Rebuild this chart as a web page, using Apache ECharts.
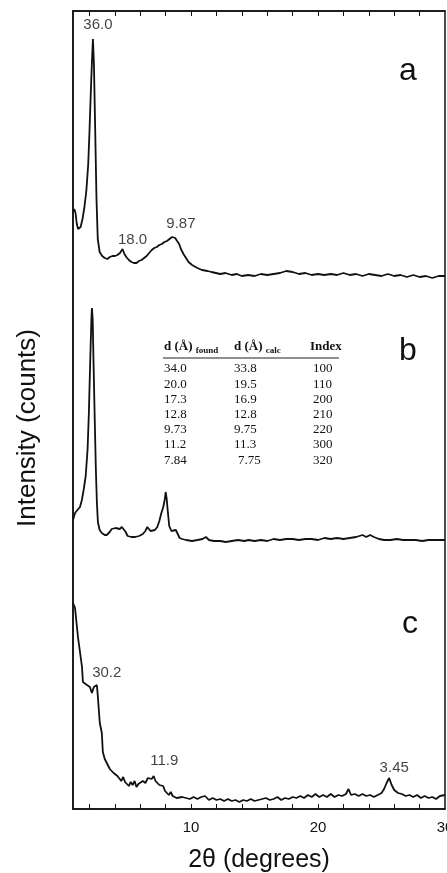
<!DOCTYPE html>
<html>
<head>
<meta charset="utf-8">
<script src="https://cdn.jsdelivr.net/npm/echarts@6/dist/echarts.min.js"></script>
<style>
    html, body { margin: 0; padding: 0; background: #fff; overflow: hidden; }
    #chart { width: 447px; height: 873px; }
</style>
</head>
<body>
<div id="chart"></div>
<script>
// XRD traces, 2theta (deg) vs intensity (arbitrary counts above each trace baseline)
var thetaA = [0.7, 0.8, 0.9, 1.0, 1.1, 1.2, 1.3, 1.45, 1.6, 1.75, 1.9, 2.0, 2.1, 2.2, 2.27, 2.35, 2.45, 2.55, 2.65, 2.8, 3.0, 3.2, 3.4, 3.6, 3.8, 4.0, 4.2, 4.4, 4.6, 4.75, 4.9, 5.1, 5.3, 5.5, 5.7, 5.9, 6.1, 6.3, 6.5, 6.7, 6.9, 7.1, 7.3, 7.5, 7.7, 7.9, 8.1, 8.3, 8.5, 8.6, 8.75, 8.9, 9.06, 9.2, 9.4, 9.6, 9.8, 10.08, 10.5, 10.86, 11.3, 11.6, 11.95, 12.3, 12.7, 13.2, 13.6, 14, 14.5, 15, 15.5, 16, 16.5, 17, 17.5, 18, 18.5, 19, 19.5, 20, 20.5, 21, 21.5, 22, 22.5, 23, 23.5, 24, 24.5, 25, 25.5, 26, 26.5, 27, 27.5, 28, 28.5, 29, 29.5, 30];
var countsA = [67, 70, 66, 55, 50, 49, 52, 60, 72, 88, 115, 148, 186, 220, 240, 214, 148, 80, 40, 27, 23, 21, 20, 22, 23, 23, 24, 26, 30, 25, 22, 19, 17, 16, 16, 18, 19, 21, 23, 26, 29, 31, 32, 34, 35, 37, 38, 40, 42, 43, 41, 38, 35, 30, 25, 21, 17, 14, 11, 9, 8, 7, 6, 5, 6, 4, 5, 3, 4, 3, 5, 4, 5, 6, 8, 7, 5, 6, 4, 5, 4, 5, 4, 6, 4, 5, 3, 5, 4, 3, 5, 3, 4, 2, 4, 2, 3, 1, 3, 3];

var thetaB = [0.7, 0.86, 1.05, 1.25, 1.4, 1.55, 1.7, 1.85, 1.95, 2.05, 2.15, 2.19, 2.25, 2.32, 2.42, 2.5, 2.58, 2.66, 2.8, 2.97, 3.2, 3.36, 3.59, 3.75, 3.9, 4.05, 4.2, 4.38, 4.55, 4.7, 4.85, 5.0, 5.3, 5.6, 5.9, 6.2, 6.4, 6.55, 6.65, 6.8, 6.95, 7.15, 7.34, 7.5, 7.66, 7.81, 7.92, 8.0, 8.08, 8.15, 8.28, 8.45, 8.6, 8.8, 8.95, 9.1, 9.3, 9.61, 10.08, 10.5, 10.9, 11.17, 11.41, 11.8, 12.3, 12.73, 13.2, 13.7, 14.2, 14.53, 15, 15.5, 16, 16.5, 17, 17.5, 18, 18.5, 19, 19.5, 20, 20.5, 21, 21.5, 22, 22.5, 23, 23.5, 23.8, 24.1, 24.4, 24.8, 25.2, 25.7, 26.2, 26.7, 27.2, 27.7, 28.2, 28.7, 29.2, 29.6, 30];
var countsB = [24, 31, 34, 37, 44, 55, 68, 95, 131, 180, 225, 236, 225, 180, 120, 75, 42, 22, 14, 11, 9, 9, 12, 15, 16, 16, 14, 15, 17, 18, 12, 8, 7, 7, 8, 10, 13, 17, 18, 13, 11, 14, 17, 23, 31, 37, 44, 52, 45, 35, 18, 13, 12, 14, 10, 6, 5, 4, 3, 4, 5, 7, 4, 3, 3, 2, 3, 4, 3, 4, 3, 4, 3, 5, 4, 5, 5, 4, 5, 5, 4, 6, 5, 6, 5, 6, 7, 9, 7, 9, 7, 5, 4, 4, 5, 4, 4, 4, 3, 4, 4, 4, 4];

var thetaC = [0.7, 0.86, 1.09, 1.41, 1.48, 1.8, 2.03, 2.19, 2.34, 2.58, 2.66, 2.81, 2.97, 3.05, 3.2, 3.36, 3.5, 3.6, 3.75, 3.9, 4.05, 4.2, 4.35, 4.5, 4.65, 4.8, 4.95, 5.1, 5.25, 5.4, 5.55, 5.7, 5.85, 6.0, 6.2, 6.4, 6.6, 6.75, 6.9, 7.05, 7.2, 7.35, 7.5, 7.65, 7.8, 7.95, 8.1, 8.25, 8.4, 8.55, 8.7, 8.85, 9.0, 9.3, 9.6, 9.9, 10.2, 10.5, 10.8, 11.1, 11.4, 11.7, 12.0, 12.3, 12.6, 12.9, 13.2, 13.5, 13.8, 14.1, 14.4, 14.7, 15.0, 15.3, 15.6, 15.9, 16.2, 16.5, 16.8, 17.1, 17.4, 17.7, 18.0, 18.3, 18.6, 18.9, 19.2, 19.5, 19.8, 20.1, 20.4, 20.7, 21.0, 21.3, 21.6, 21.9, 22.2, 22.4, 22.6, 22.9, 23.2, 23.5, 23.8, 24.1, 24.4, 24.7, 25.0, 25.2, 25.4, 25.6, 25.8, 26.0, 26.3, 26.6, 26.9, 27.2, 27.5, 27.8, 28.1, 28.4, 28.7, 29.0, 29.3, 29.6, 30];
var countsC = [206, 201, 172, 142, 127, 124, 122, 116, 122, 124, 112, 86, 76, 57, 50, 46, 44, 40, 42, 36, 38, 33, 35, 28, 32, 27, 29, 23, 27, 24, 28, 22, 25, 24, 28, 26, 31, 33, 30, 33, 28, 29, 24, 22, 23, 18, 19, 14, 17, 13, 14, 11, 13, 12, 11, 10, 12, 10, 12, 13, 9, 11, 9, 10, 8, 10, 8, 9, 7, 9, 8, 10, 8, 9, 10, 11, 9, 10, 12, 9, 11, 10, 12, 11, 13, 11, 14, 12, 15, 12, 14, 12, 15, 12, 14, 13, 15, 20, 14, 15, 13, 15, 13, 14, 12, 14, 16, 20, 26, 31, 24, 19, 16, 15, 13, 14, 12, 14, 11, 13, 11, 12, 10, 13, 14];

// vertical stacking of the three traces
var offsetA = 530, offsetB = 265, offsetC = 0;

// peak annotations: [2theta, y, text]
var peakLabels = [
    [2.66, 784, '36.0'],
    [5.39, 569, '18.0'],
    [9.2, 585, '9.87'],
    [3.36, 136, '30.2'],
    [7.89, 48, '11.9'],
    [26.0, 41, '3.45']
];

var xTickLabels = [10, 20, 30];
var xMinorTicks = [2, 4, 6, 8, 10, 12, 14, 16, 18, 20, 22, 24, 26, 28];

// inset table
var dFound = ['34.0', '20.0', '17.3', '12.8', '9.73', '11.2', '7.84'];
var dCalc = ['33.8', '19.5', '16.9', '12.8', '9.75', '11.3', '7.75'];
var hkl = ['100', '110', '200', '210', '220', '300', '320'];

function toPairs(xs, ys, off) {
    var out = [];
    for (var i = 0; i < xs.length; i++) {
        out.push([xs[i], ys[i] + off]);
    }
    return out;
}

function traceSeries(name, data) {
    return {
        name: name,
        type: 'line',
        data: data,
        symbol: 'none',
        smooth: false,
        lineStyle: { color: '#111', width: 1.8 },
        z: 3
    };
}

// build the table text elements
var serif = '"Liberation Serif", "DejaVu Serif", serif';
var tableEls = [];
var colX = [164, 234, 313];
var headY = 348;
var rowY0 = 369, rowStep = 15.2;
var subRich = {
    b: { fontFamily: serif, fontWeight: 'bold', fontSize: 13, fill: '#111' },
    s: { fontFamily: serif, fontWeight: 'bold', fontSize: 9, fill: '#111', padding: [8, 0, 0, 0] }
};
tableEls.push({
    type: 'text', left: colX[0], top: headY - 8,
    style: { text: '{b|d (Å)} {s|found}', rich: subRich }
});
tableEls.push({
    type: 'text', left: colX[1], top: headY - 8,
    style: { text: '{b|d (Å)} {s|calc}', rich: subRich }
});
tableEls.push({
    type: 'text', left: colX[2] - 3, top: headY - 8,
    style: { text: 'Index', fontFamily: serif, fontWeight: 'bold', fontSize: 13, fill: '#111' }
});
tableEls.push({
    type: 'line',
    shape: { x1: 163, y1: 358, x2: 339, y2: 358 },
    style: { stroke: '#222', lineWidth: 1.2 }
});
for (var r = 0; r < dFound.length; r++) {
    var ty = rowY0 + r * rowStep;
    tableEls.push({ type: 'text', x: colX[0], y: ty, style: { text: dFound[r], fontFamily: serif, fontSize: 13, fill: '#111', verticalAlign: 'middle' } });
    tableEls.push({ type: 'text', x: colX[1] + (r === 6 ? 4 : 0), y: ty, style: { text: dCalc[r], fontFamily: serif, fontSize: 13, fill: '#111', verticalAlign: 'middle' } });
    tableEls.push({ type: 'text', x: colX[2], y: ty, style: { text: hkl[r], fontFamily: serif, fontSize: 13, fill: '#111', verticalAlign: 'middle' } });
}

var sans = '"Liberation Sans", Arial, sans-serif';

// panel letters and y axis title
var textEls = [
    { type: 'text', x: 408, y: 71, style: { text: 'a', fontFamily: sans, fontSize: 32, fill: '#111', align: 'center', verticalAlign: 'middle' } },
    { type: 'text', x: 408, y: 351, style: { text: 'b', fontFamily: sans, fontSize: 32, fill: '#111', align: 'center', verticalAlign: 'middle' } },
    { type: 'text', x: 410, y: 624, style: { text: 'c', fontFamily: sans, fontSize: 32, fill: '#111', align: 'center', verticalAlign: 'middle' } },
    { type: 'text', x: 28, y: 428, rotation: Math.PI / 2, style: { text: 'Intensity (counts)', fontFamily: sans, fontSize: 26, fill: '#111', align: 'center', verticalAlign: 'middle' } }
];

var chart = echarts.init(document.getElementById('chart'), null, { renderer: 'canvas' });
chart.setOption({
    animation: false,
    backgroundColor: '#fff',
    grid: {
        left: 73, right: 2, top: 11, bottom: 64,
        outerBoundsMode: 'none', containLabel: false,
        show: true, borderColor: '#111', borderWidth: 1.5
    },
    xAxis: [
        {
            type: 'value', min: 0.7, max: 30,
            name: '2θ (degrees)', nameLocation: 'middle', nameGap: 39,
            nameTextStyle: { fontFamily: sans, fontSize: 25, color: '#111' },
            axisLine: { show: true, onZero: false, lineStyle: { color: '#111', width: 1.5 } },
            axisTick: { show: true, inside: true, length: 5, customValues: xMinorTicks, lineStyle: { color: '#111' } },
            axisLabel: { customValues: xTickLabels, margin: 11, fontFamily: sans, fontSize: 15, color: '#111' },
            splitLine: { show: false }
        },
        {
            type: 'value', min: 0.7, max: 30, position: 'top',
            axisLine: { show: true, onZero: false, lineStyle: { color: '#111', width: 1.5 } },
            axisTick: { show: true, inside: true, length: 5, customValues: xMinorTicks, lineStyle: { color: '#111' } },
            axisLabel: { show: false },
            splitLine: { show: false }
        }
    ],
    yAxis: {
        type: 'value', min: 0, max: 798,
        axisLine: { show: true, lineStyle: { color: '#111', width: 1.5 } },
        axisTick: { show: false },
        axisLabel: { show: false },
        splitLine: { show: false }
    },
    series: [
        traceSeries('a', toPairs(thetaA, countsA, offsetA)),
        traceSeries('b', toPairs(thetaB, countsB, offsetB)),
        traceSeries('c', toPairs(thetaC, countsC, offsetC)),
        {
            name: 'peaks',
            type: 'scatter',
            data: peakLabels,
            symbolSize: 0,
            label: {
                show: true, position: 'inside',
                formatter: function(p) { return p.value[2]; },
                fontFamily: sans, fontSize: 15, color: '#111'
            },
            z: 4
        }
    ],
    graphic: tableEls.concat(textEls)
});
</script>
</body>
</html>
